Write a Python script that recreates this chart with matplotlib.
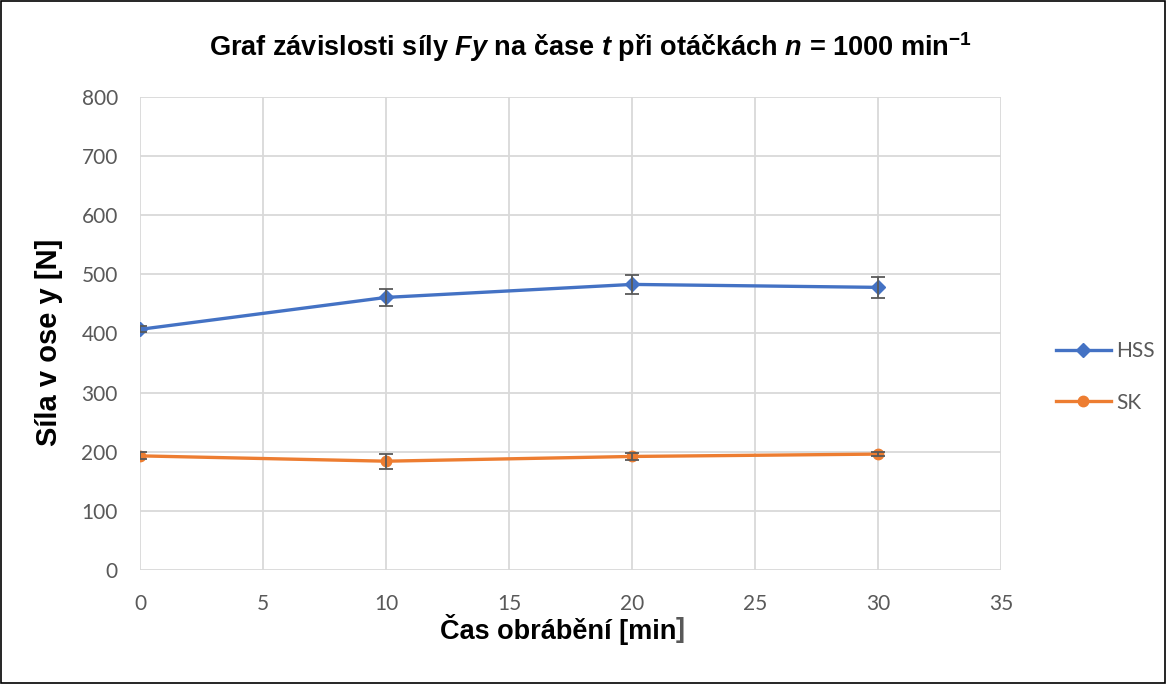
import numpy as np
import matplotlib
matplotlib.use('Agg')
import matplotlib.pyplot as plt
from matplotlib.patches import Rectangle

# data
cas = [0, 10, 20, 30]
hss = [407, 461, 483, 478]
hss_err = [5, 15, 16, 18]
sk = [193, 184, 192, 196]
sk_err = [6, 13, 6, 3]

plt.rcParams['mathtext.fontset'] = 'custom'
plt.rcParams['mathtext.rm'] = 'Liberation Sans:bold'
plt.rcParams['mathtext.it'] = 'Liberation Sans:italic:bold'
plt.rcParams['mathtext.bf'] = 'Liberation Sans:bold'

seda = '#595959'
modra = '#4472C4'
oranz = '#ED7D31'
fig = plt.figure(figsize=(11.67, 6.84), dpi=100)
ax = fig.add_axes([0.12, 0.1667, 0.7378, 0.6915])

ax.plot(cas, hss, color=modra, lw=2.4, marker='D', ms=7.5, label='HSS', zorder=3)
ax.plot(cas, sk, color=oranz, lw=2.4, marker='o', ms=7.5, label='SK', zorder=3)
ax.errorbar(cas, hss, yerr=hss_err, fmt='none', ecolor=seda, elinewidth=1.3,
            capsize=5, capthick=1.3, zorder=4)
ax.errorbar(cas, sk, yerr=sk_err, fmt='none', ecolor=seda, elinewidth=1.3,
            capsize=5, capthick=1.3, zorder=4)

ax.set_xlim(0, 35)
ax.set_ylim(0, 800)
ax.set_xticks(np.arange(0, 36, 5))
ax.set_yticks(np.arange(0, 801, 100))
ax.grid(True, color='#d9d9d9', lw=1.3)
ax.set_axisbelow(True)
for s in ax.spines.values():
    s.set_visible(False)
ax.tick_params(length=0, labelsize=15, labelcolor=seda)
ax.tick_params(axis='y', pad=16)
ax.tick_params(axis='x', pad=17)
for lab in ax.get_xticklabels() + ax.get_yticklabels():
    lab.set_fontfamily('Lato')

fig.text(0.506, 0.931,
         r"Graf závislosti síly $Fy$ na čase $t$ při otáčkách $n$ = 1000 min$^{-1}$",
         ha='center', va='center', fontsize=19.5, fontweight='bold', family='Liberation Sans')
fig.text(0.042, 0.5, 'Síla v ose y [N]', rotation=90, ha='center', va='center',
         fontsize=21, fontweight='bold', family='Liberation Sans')
t1 = fig.text(0.478, 0.079, 'Čas obrábění [min', ha='center', va='center',
              fontsize=19.5, fontweight='bold', family='Liberation Sans')
fig.canvas.draw()
bb = t1.get_window_extent()
fig.text(bb.x1 / fig.bbox.width, 0.079, ']', ha='left', va='center',
         fontsize=19.5, fontweight='bold', family='Liberation Sans', color=seda)

leg = fig.legend(loc='center left', bbox_to_anchor=(0.8886, 0.449), frameon=False,
                 handlelength=2.65, labelspacing=1.5, handletextpad=0.25,
                 prop={'family': 'Lato', 'size': 15})
for t in leg.get_texts():
    t.set_color(seda)

fig.patches.append(Rectangle((0.0005, 0.0008), 0.998, 0.998, transform=fig.transFigure,
                             fill=False, edgecolor='black', lw=1.2))

fig.savefig('out.png', dpi=100)
